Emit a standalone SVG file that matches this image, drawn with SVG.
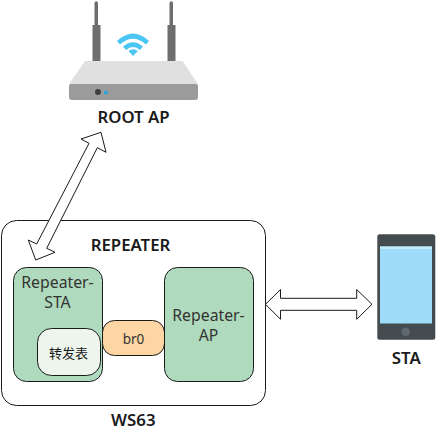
<svg xmlns="http://www.w3.org/2000/svg" width="445" height="439" viewBox="0 0 445 439">
<style>
text{font-family:"Noto Sans","Noto Sans CJK SC",sans-serif;text-anchor:middle;fill:#1a1a1a}
.b{font-size:16.800px;font-weight:600}
.r{font-size:15.800px;fill:#333}
.box{stroke:#1a1a1a;stroke-width:1}
.g{fill:#afdabd}
.arrow{fill:#fff;stroke:#1a1a1a;stroke-width:1}
</style>
<rect width="445" height="439" fill="#fff"/>
<g id="root-ap">
<path d="M94.500 3a1.500 1.500 0 0 1 3.500 0V25h2.500V61h-8V25h2z" fill="#6e6e6e"/>
<path d="M169.500 3a1.500 1.500 0 0 1 3.500 0V25h2.500V61h-8V25h2z" fill="#6e6e6e"/>
<path d="M85 61H182.500L198 84H69z" fill="#e0e0e0"/>
<path d="M71 84H196a2 2 0 0 1 2 2V97a3 3 0 0 1-3 3H72a3 3 0 0 1-3-3V86a2 2 0 0 1 2-2z" fill="#9b9b9b"/>
<circle cx="98" cy="92" r="3" fill="#3e3e3e"/>
<circle cx="105.800" cy="92.500" r="2" fill="#2ba3e0"/>
<path d="M117 41Q133 26 149 41L146 44.500Q133 33 120 44.500z" fill="#4cc6f4"/>
<path d="M123 46.500Q133 38 143 46.500L140 50Q133 44 126 50z" fill="#4cc6f4"/>
<path d="M128.500 51Q133 47.500 138 51L133 56z" fill="#4cc6f4"/>
<text class="b" x="133.500" y="123">ROOT AP</text>
</g>
<g id="repeater">
<rect class="box" x="1.500" y="220.500" width="264" height="185" rx="15" fill="#fff"/>
<text class="b" x="130.500" y="250.500">REPEATER</text>
</g>
<g id="repeater-sta">
<rect class="box g" x="13.500" y="267.500" width="89" height="114" rx="13"/>
<text class="r" x="57.500" y="288">Repeater-<tspan x="57.500" dy="20">STA</tspan></text>
</g>
<g id="table">
<rect class="box" x="37.500" y="328.500" width="63" height="47" rx="14" fill="#edf5ec"/>
<text x="68.500" y="358" font-size="13" style="font-family:'Noto Sans CJK SC',sans-serif">转发表</text>
</g>
<g id="br0">
<rect class="box" x="102.500" y="320.500" width="62" height="35" rx="12" fill="#fdd6a3"/>
<text x="133.500" y="344" font-size="13.500" style="fill:#333">br0</text>
</g>
<g id="repeater-ap">
<rect class="box g" x="164.500" y="267.500" width="89" height="114" rx="13"/>
<text class="r" x="208.500" y="321">Repeater-<tspan x="208.500" dy="20">AP</tspan></text>
</g>
<g id="sta">
<rect x="377.300" y="234.300" width="58" height="105.500" rx="2.500" fill="#454c50"/>
<rect x="380" y="246.500" width="52" height="77" fill="#9edcfa"/>
<rect x="380" y="246.500" width="52" height="2.500" fill="#c5ecfb"/>
<circle cx="405.700" cy="331.700" r="4.300" fill="#5f6a70"/>
<text class="b" x="406.300" y="363.500">STA</text>
</g>
<g id="ws63">
<text class="b" x="133.300" y="425.800">WS63</text>
</g>
<g id="connectors">
<path class="arrow" d="M101 132.300L81 139L89 143.300L36.700 244L28.300 240L35.700 260L55 252.300L46.700 248.300L97.300 147.700L106 152.300z"/>
<path class="arrow" d="M265.500 304.300L280.500 289.500V298.300H356.700V289.500L372 304.300L356.700 319.300V310.300H280.500V319.300z"/>
</g>
</svg>
